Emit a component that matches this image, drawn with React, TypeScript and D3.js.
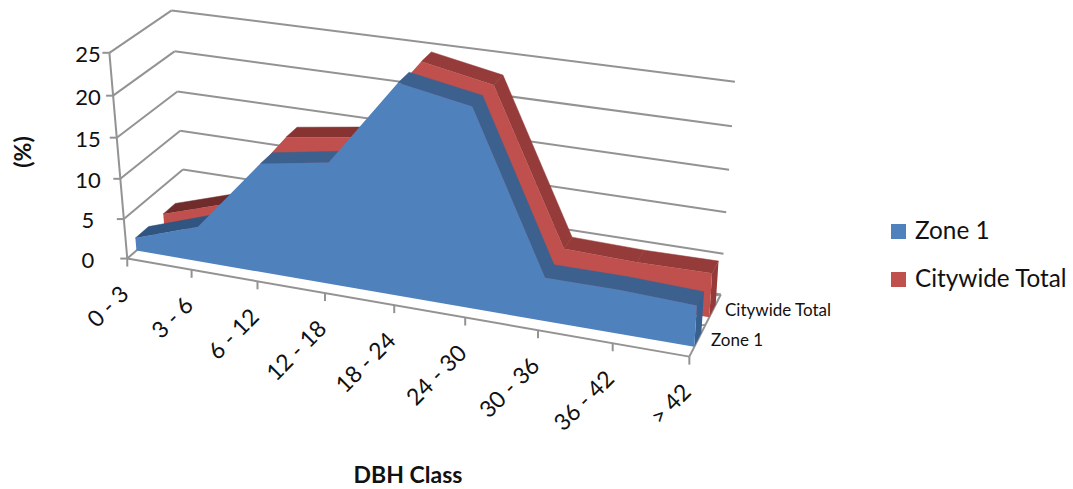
import React from "react";
import * as d3 from "d3";

// DBH class distribution, drawn as a two-series 3D area chart.
const categories = ["0 - 3", "3 - 6", "6 - 12", "12 - 18", "18 - 24", "24 - 30", "30 - 36", "36 - 42", "> 42"];
const zone1 = [1.6, 4.4, 13.4, 14.8, 25.1, 23.6, 5.2, 5.2, 4.9];
const citywide = [1.6, 4.2, 13.8, 15, 25, 23.4, 5.4, 5.2, 5.3];
const valueTicks = [0, 5, 10, 15, 20, 25];
const seriesNames = ["Zone 1", "Citywide Total"];

const WIDTH = 1073;
const HEIGHT = 489;
const FONT = "Lato, 'Open Sans', sans-serif";
const GRID = "#939393";
const BLUE = { front: "#4f81bd", end: "#375f8f", top: ["#2f5580", "#3c618f", "#3c618f", "#3c618f", "#3c618f", "#3c618f", "#3c618f", "#3c618f"] };
const RED = { front: "#c0504d", end: "#953a38", top: ["#702b2b", "#702b2b", "#873331", "#873331", "#953b39", "#953b39", "#953b39", "#953b39"] };

type P3 = [number, number, number];
type P2 = [number, number];

// Known points of the plot box: unit-cube corner -> page position.
const boxCorners: [P3, P2][] = [
  [[0, 0, 0], [127, 259]],
  [[1, 0, 0], [689, 357]],
  [[0, 1, 0], [110, 52]],
  [[0, 0, 1], [186, 207]],
  [[1, 0, 1], [721, 294]],
  [[0, 1, 1], [171, 11]],
  [[1, 1, 1], [735, 82]],
];

// Least-squares fit of a projective camera to the box corners.
function fitCamera(pairs: [P3, P2][]): number[] {
  const rows: number[][] = [];
  const rhs: number[] = [];
  for (const [[u, v, w], [X, Y]] of pairs) {
    rows.push([u, v, w, 1, 0, 0, 0, 0, -X * u, -X * v, -X * w]);
    rhs.push(X);
    rows.push([0, 0, 0, 0, u, v, w, 1, -Y * u, -Y * v, -Y * w]);
    rhs.push(Y);
  }
  const n = 11;
  const A = d3.range(n).map((i) =>
    d3.range(n + 1).map((j) =>
      d3.sum(rows, (r, k) => r[i] * (j === n ? rhs[k] : r[j]))
    )
  );
  for (let c = 0; c < n; c++) {
    let best = c;
    for (let r = c + 1; r < n; r++) if (Math.abs(A[r][c]) > Math.abs(A[best][c])) best = r;
    [A[c], A[best]] = [A[best], A[c]];
    for (let r = 0; r < n; r++) {
      if (r === c) continue;
      const f = A[r][c] / A[c][c];
      for (let k = c; k <= n; k++) A[r][k] -= f * A[c][k];
    }
  }
  return A.map((row, i) => row[n] / row[i]);
}

const cam = fitCamera(boxCorners);
const project = (u: number, v: number, w: number): P2 => {
  const d = cam[8] * u + cam[9] * v + cam[10] * w + 1;
  return [
    (cam[0] * u + cam[1] * v + cam[2] * w + cam[3]) / d,
    (cam[4] * u + cam[5] * v + cam[6] * w + cam[7]) / d,
  ];
};

const xScale = d3.scaleLinear().domain([0, categories.length - 1]).range([0, 1]);
const yScale = d3.scaleLinear().domain([0, 25]).range([0, 1]);
const pt = (i: number, value: number, w: number) => project(xScale(i), yScale(value), w);
const path = d3.line<P2>().x((d) => d[0]).y((d) => d[1]);
const poly = (pts: P2[]) => path(pts) + "Z";

// Screen-space winding, used to drop faces turned away from the viewer.
const facesViewer = (p: P2[]) =>
  (p[1][0] - p[0][0]) * (p[2][1] - p[0][1]) - (p[1][1] - p[0][1]) * (p[2][0] - p[0][0]) > 0;

function AreaSeries({ values, w0, w1, colors }: { values: number[]; w0: number; w1: number; colors: typeof BLUE }) {
  const last = values.length - 1;
  const frontPts: P2[] = [pt(0, 0, w0), ...values.map((v, i) => pt(i, v, w0)), pt(last, 0, w0)];
  return (
    <g>
      {values.slice(0, -1).map((v, i) => {
        const face = [pt(i, v, w0), pt(i, v, w1), pt(i + 1, values[i + 1], w1), pt(i + 1, values[i + 1], w0)];
        return facesViewer(face) ? <path key={i} d={poly(face)} fill={colors.top[i]} stroke={colors.top[i]} strokeWidth={0.5} /> : null;
      })}
      <path d={poly([pt(last, values[last], w0), pt(last, values[last], w1), pt(last, 0, w1), pt(last, 0, w0)])} fill={colors.end} />
      <path d={poly(frontPts)} fill={colors.front} />
    </g>
  );
}

export default function App() {
  const axisLine = (a: P2, b: P2, key: string) => (
    <line key={key} x1={a[0]} y1={a[1]} x2={b[0]} y2={b[1]} stroke={GRID} strokeWidth={2} />
  );
  return (
    <svg width={WIDTH} height={HEIGHT} style={{ position: "absolute", left: 0, top: 0 }} fontFamily={FONT}>
      {/* walls */}
      {valueTicks.map((t) => {
        const a = project(0, yScale(t), 0);
        const b = project(0, yScale(t), 1);
        const c = project(1, yScale(t), 1);
        return (
          <g key={t}>
            {axisLine(a, b, "side")}
            {axisLine(b, c, "back")}
            {axisLine(a, [a[0] - 7, a[1]], "tick")}
            <text x={88} y={a[1] + 9} textAnchor="middle" fontSize={22} fill="#111">{t}</text>
          </g>
        );
      })}
      {/* floor edges */}
      {axisLine(project(0, 0, 0), project(0, 1, 0), "valueAxis")}
      {axisLine(project(0, 0, 0), project(1, 0, 0), "catAxis")}
      {axisLine(project(1, 0, 0), project(1, 0, 1), "depthAxis")}
      {[0.5, 1].map((w) => {
        const p = project(1, 0, w);
        return axisLine(p, [p[0] - 6, p[1] + 1], `depth${w}`);
      })}

      <AreaSeries values={citywide} w0={0.62} w1={0.83} colors={RED} />
      <AreaSeries values={zone1} w0={0.15} w1={0.37} colors={BLUE} />

      {/* category ticks and labels */}
      {categories.map((c, i) => {
        const p = pt(i, 0, 0);
        return (
          <g key={c}>
            {axisLine(p, [p[0], p[1] + 8], "t")}
            <text
              transform={`translate(${p[0] + 3},${p[1] + 37}) rotate(-45)`}
              textAnchor="end"
              fontSize={23}
              fill="#111"
            >
              {c}
            </text>
          </g>
        );
      })}

      {/* depth axis labels */}
      <text x={725} y={316} fontSize={17} fill="#111">{seriesNames[1]}</text>
      <text x={711} y={346} fontSize={17} fill="#111">{seriesNames[0]}</text>

      {/* axis titles */}
      <text transform="translate(31,152) rotate(-90)" textAnchor="middle" fontSize={23} fontWeight={700} fill="#111">(%)</text>
      <text x={408} y={483} textAnchor="middle" fontSize={23} fontWeight={700} fill="#111">DBH Class</text>

      {/* legend */}
      <rect x={891} y={224} width={15} height={15} fill={BLUE.front} />
      <text x={915} y={239} fontSize={24.3} fill="#111">{seriesNames[0]}</text>
      <rect x={891} y={272} width={15} height={15} fill={RED.front} />
      <text x={915} y={287} fontSize={24.3} fill="#111">{seriesNames[1]}</text>
    </svg>
  );
}
